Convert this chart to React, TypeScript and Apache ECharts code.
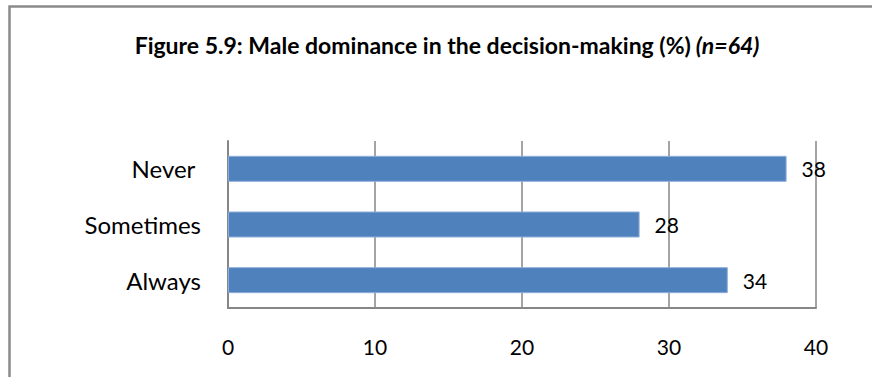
import React, { useEffect, useRef } from "react";
import * as echarts from "echarts";

// Survey responses, listed bottom-to-top as the category axis draws them
const categories = ["Always", "Sometimes", "Never "];
const shares = [34, 28, 38];
const xTicks = { min: 0, max: 40, interval: 10 };

const FONT = "Lato, 'Open Sans', sans-serif";

export default function App() {
  const ref = useRef<HTMLDivElement>(null);

  useEffect(() => {
    if (!ref.current) return;
    const chart = echarts.init(ref.current, null, { renderer: "svg" });
    chart.setOption({
      animation: false,
      backgroundColor: "#ffffff",
      title: {
        text: "{a|Figure 5.9: Male dominance in the decision-making (%)} {b|(n=64)}",
        left: 442,
        textAlign: "center",
        top: 28,
        textStyle: {
          rich: {
            a: { fontFamily: FONT, fontWeight: "bold", fontSize: 23, color: "#000", lineHeight: 24 },
            b: { fontFamily: FONT, fontWeight: "bold", fontStyle: "italic", fontSize: 23, color: "#000", lineHeight: 24 },
          },
        },
      },
      graphic: [
        {
          type: "rect",
          shape: { x: 9.5, y: 6.5, width: 900, height: 420 },
          style: { fill: "none", stroke: "#8a8a8a", lineWidth: 2.5 },
          silent: true,
          z: 10,
        },
      ],
      grid: { left: 228, right: 56, top: 141, height: 167, containLabel: false },
      xAxis: {
        type: "value",
        min: xTicks.min,
        max: xTicks.max,
        interval: xTicks.interval,
        axisLine: { show: true, lineStyle: { color: "#868686", width: 2 } },
        axisTick: { show: false },
        splitLine: { show: true, lineStyle: { color: "#868686", width: 1.5 } },
        axisLabel: {
          margin: 28,
          fontFamily: FONT,
          fontSize: 21,
          color: "#000",
          lineHeight: 21,
        },
      },
      yAxis: {
        type: "category",
        data: categories,
        axisLine: { show: true, lineStyle: { color: "#868686", width: 2 } },
        axisTick: { show: false },
        splitLine: { show: false },
        axisLabel: {
          margin: 27,
          fontFamily: FONT,
          fontSize: 24,
          color: "#000",
        },
      },
      series: [
        {
          type: "bar",
          data: shares,
          barWidth: 26,
          itemStyle: { color: "#4f81bd", borderColor: "#8eaedb", borderWidth: 1 },
          label: {
            show: true,
            position: "right",
            distance: 15,
            fontFamily: FONT,
            fontSize: 21,
            color: "#000",
          },
        },
      ],
    });
    return () => chart.dispose();
  }, []);

  return (
    <div
      ref={ref}
      style={{ position: "fixed", left: 0, top: 0, width: 872, height: 377 }}
    />
  );
}
